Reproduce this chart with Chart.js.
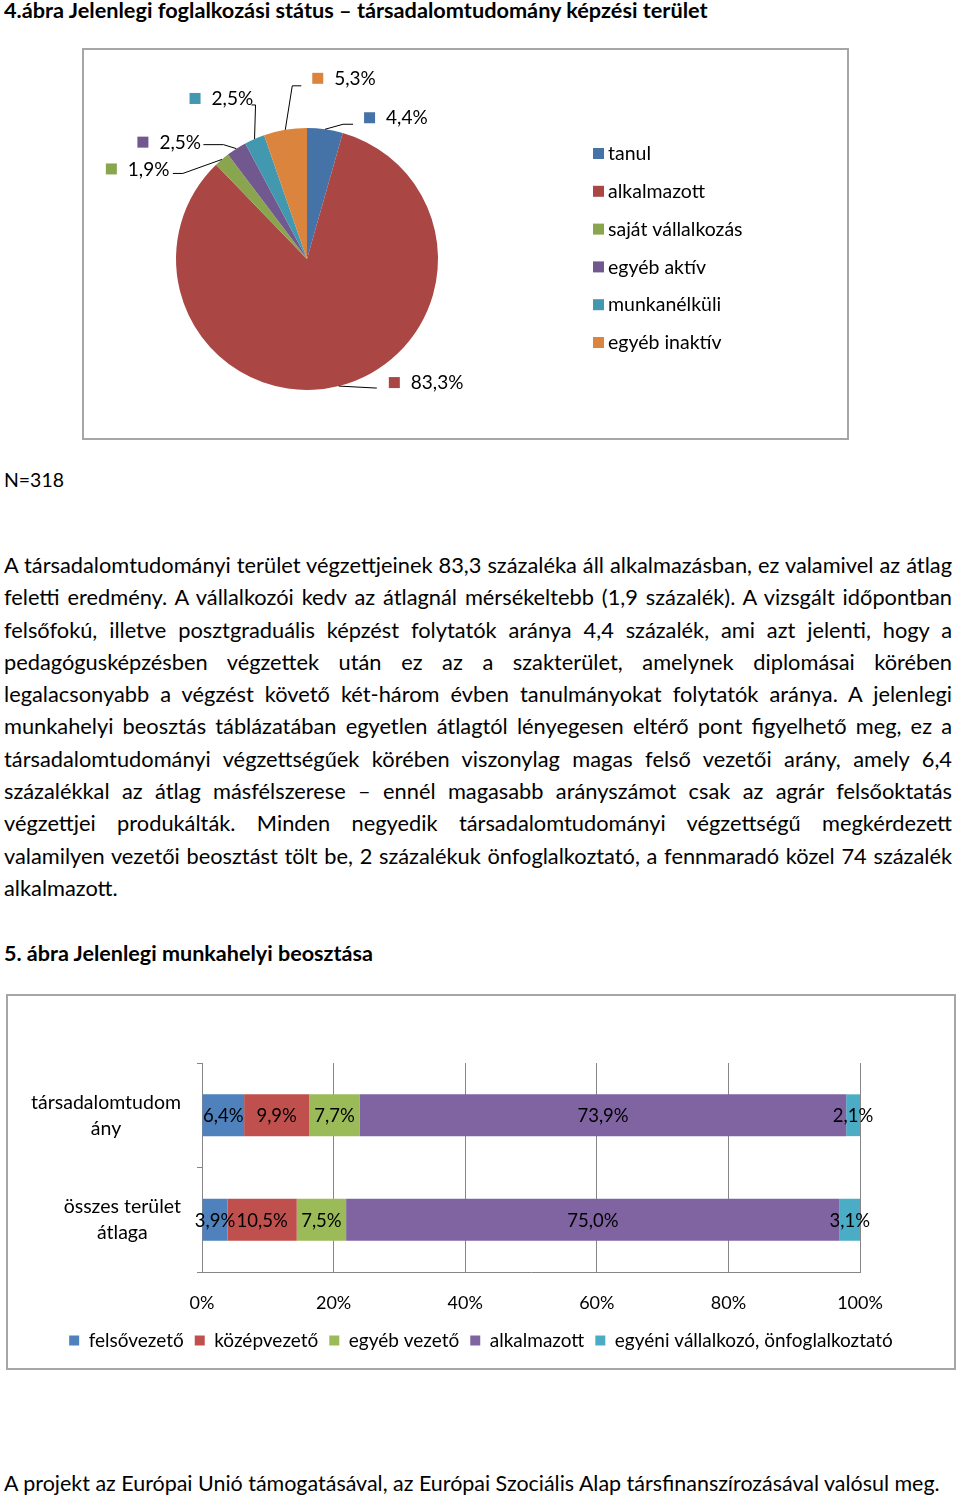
<!DOCTYPE html>
<html lang="hu">
<head>
<meta charset="UTF-8">
<title>Jelenlegi foglalkozási státus</title>
<script src="https://cdn.jsdelivr.net/npm/chart.js@4.4.0/dist/chart.umd.min.js"></script>
<style>
  body { margin: 0; width: 960px; height: 1498px; position: relative; background: #fff; color: #000; font-family: Lato, "Open Sans", sans-serif; overflow: hidden; }
  .t { position: absolute; left: 4px; white-space: nowrap; line-height: 1; }
  .b { font-weight: bold; }
  .box { position: absolute; box-sizing: border-box; border: 2px solid #a6a6a6; background: #fff; }
  .box canvas { display: block; }
  .para { position: absolute; left: 4px; width: 948px; font-size: 20px; }
  .para div { height: 32.3px; line-height: 32.3px; text-align: justify; text-align-last: justify; white-space: nowrap; }
  .para div.last { text-align-last: left; }
</style>
</head>
<body>
<div class="t b" id="title1" data-w="704" style="top:0px">4.ábra Jelenlegi foglalkozási státus – társadalomtudomány képzési terület</div>

<div class="box" style="left:82px; top:48px; width:767px; height:392px">
  <canvas id="pie" width="763" height="388"></canvas>
</div>

<div class="t" id="nval" data-w="60" style="top:470px">N=318</div>

<div class="para" id="para" style="top:549px">
  <div>A társadalomtudományi terület végzettjeinek 83,3 százaléka áll alkalmazásban, ez valamivel az átlag</div>
  <div>feletti eredmény. A vállalkozói kedv az átlagnál mérsékeltebb (1,9 százalék). A vizsgált időpontban</div>
  <div>felsőfokú, illetve posztgraduális képzést folytatók aránya 4,4 százalék, ami azt jelenti, hogy a</div>
  <div>pedagógusképzésben végzettek után ez az a szakterület, amelynek diplomásai körében</div>
  <div>legalacsonyabb a végzést követő két-három évben tanulmányokat folytatók aránya. A jelenlegi</div>
  <div>munkahelyi beosztás táblázatában egyetlen átlagtól lényegesen eltérő pont figyelhető meg, ez a</div>
  <div>társadalomtudományi végzettségűek körében viszonylag magas felső vezetői arány, amely 6,4</div>
  <div>százalékkal az átlag másfélszerese – ennél magasabb arányszámot csak az agrár felsőoktatás</div>
  <div>végzettjei produkálták. Minden negyedik társadalomtudományi végzettségű megkérdezett</div>
  <div>valamilyen vezetői beosztást tölt be, 2 százalékuk önfoglalkoztató, a fennmaradó közel 74 százalék</div>
  <div class="last">alkalmazott.</div>
</div>

<div class="t b" id="title2" data-w="369" style="top:943px">5. ábra Jelenlegi munkahelyi beosztása</div>

<div class="box" style="left:6px; top:994px; width:950px; height:376px">
  <canvas id="bar" width="946" height="372"></canvas>
</div>

<div class="t" id="foot" data-w="936" style="top:1473px">A projekt az Európai Unió támogatásával, az Európai Szociális Alap társfinanszírozásával valósul meg.</div>

<script>
// pie: jelenlegi foglalkozási státus (%)
const pieLabels = ['tanul', 'alkalmazott', 'saját vállalkozás', 'egyéb aktív', 'munkanélküli', 'egyéb inaktív']
const pieValues = [4.4, 83.3, 1.9, 2.5, 2.5, 5.3]
const pieColors = ['#4572A7', '#AA4643', '#89A54E', '#71588F', '#4198AF', '#DB843D']

// bar: jelenlegi munkahelyi beosztás (%)
const barCategories = [['társadalomtudom', 'ány'], ['összes terület', 'átlaga']]
const seriesNames = ['felsővezető', 'középvezető', 'egyéb vezető', 'alkalmazott', 'egyéni vállalkozó, önfoglalkoztató']
const felsovezeto = [6.4, 3.9]
const kozepvezeto = [9.9, 10.5]
const egyebVezeto = [7.7, 7.5]
const alkalmazott = [73.9, 75.0]
const egyeniVallalkozo = [2.1, 3.1]
const barColors = ['#4F81BD', '#C0504D', '#9BBB59', '#8064A2', '#4BACC6']
const xTickStep = 20

const fmt = v => v.toFixed(1).replace('.', ',') + '%'
const FONT = 'Lato, "Open Sans", sans-serif'

// fit single-line texts to the widths they have in the original
document.querySelectorAll('.t[data-w]').forEach(el => {
  el.style.fontSize = '20px'
  const w = el.getBoundingClientRect().width
  el.style.fontSize = (20 * (+el.dataset.w) / w) + 'px'
})

// paragraph: the longest line should fill the column with normal spacing
;(function () {
  const para = document.getElementById('para')
  const probe = document.createElement('span')
  probe.style.cssText = 'position:absolute;visibility:hidden;white-space:nowrap;font-size:20px'
  document.body.appendChild(probe)
  let maxW = 0
  para.querySelectorAll('div:not(.last)').forEach(d => {
    probe.textContent = d.textContent
    maxW = Math.max(maxW, probe.getBoundingClientRect().width)
  })
  probe.remove()
  para.style.fontSize = (20 * 944 / maxW) + 'px'
})()

window.onload = function () {
  // data labels with leader lines and legend keys, as in the Excel chart
  const pieLabelPlugin = {
    id: 'pieLabels',
    afterDatasetsDraw(chart, args, opts) {
      const ctx = chart.ctx
      const ds = chart.data.datasets[0]
      chart.getDatasetMeta(0).data.forEach((arc, i) => {
        const { x, y, startAngle, endAngle, outerRadius } = arc.getProps(['x', 'y', 'startAngle', 'endAngle', 'outerRadius'], true)
        const mid = (startAngle + endAngle) / 2
        const ax = x + Math.cos(mid) * outerRadius
        const ay = y + Math.sin(mid) * outerRadius
        const p = opts.placement[i]
        ctx.save()
        ctx.strokeStyle = '#000'
        ctx.lineWidth = 1
        ctx.beginPath()
        ctx.moveTo(ax, ay)
        ctx.lineTo(ax + p.elbow[0], ay + p.elbow[1])
        ctx.lineTo(ax + p.end[0], ay + p.end[1])
        ctx.stroke()
        const lx = ax + p.label[0], ly = ay + p.label[1]
        ctx.fillStyle = ds.backgroundColor[i]
        ctx.fillRect(lx, ly - 5, 11, 11)
        ctx.fillStyle = '#000'
        ctx.font = '19px ' + FONT
        ctx.textAlign = 'left'
        ctx.textBaseline = 'middle'
        ctx.fillText(fmt(ds.data[i]), lx + 22, ly + 1)
        ctx.restore()
      })
    }
  }

  const pieLegendPlugin = {
    id: 'pieLegend',
    afterDraw(chart, args, opts) {
      const ctx = chart.ctx
      const ds = chart.data.datasets[0]
      chart.data.labels.forEach((lab, i) => {
        const y = opts.top + i * opts.step
        ctx.save()
        ctx.fillStyle = ds.backgroundColor[i]
        ctx.fillRect(opts.left, y - 5, 11, 11)
        ctx.fillStyle = '#000'
        ctx.font = '19.5px ' + FONT
        ctx.textBaseline = 'middle'
        ctx.fillText(lab, opts.left + 15, y + 1)
        ctx.restore()
      })
    }
  }

  new Chart(document.getElementById('pie'), {
    type: 'pie',
    data: {
      labels: pieLabels,
      datasets: [{ data: pieValues, backgroundColor: pieColors, borderWidth: 0 }]
    },
    options: {
      responsive: false,
      animation: false,
      radius: 131,
      layout: { padding: { left: 92, right: 409, top: 78, bottom: 48 } },
      plugins: {
        legend: { display: false },
        tooltip: { enabled: false },
        pieLabels: {
          placement: [
            { elbow: [18, -5], end: [28, -5], label: [39, -12] },
            { elbow: [38, 2], end: [38, 2], label: [50, -4] },
            { elbow: [-39, 14], end: [-49, 14], label: [-116, 9] },
            { elbow: [-13, -4], end: [-33, -4], label: [-99, -7] },
            { elbow: [1, -34], end: [-3, -34], label: [-65, -41] },
            { elbow: [7, -44], end: [16, -44], label: [27, -52] }
          ]
        },
        pieLegend: { left: 509, top: 103, step: 37.8 }
      }
    },
    plugins: [pieLabelPlugin, pieLegendPlugin]
  })

  const barValuePlugin = {
    id: 'barValues',
    afterDatasetsDraw(chart) {
      const ctx = chart.ctx
      ctx.save()
      ctx.font = '18.5px ' + FONT
      ctx.fillStyle = '#000'
      ctx.textAlign = 'center'
      ctx.textBaseline = 'middle'
      chart.data.datasets.forEach((ds, di) => {
        chart.getDatasetMeta(di).data.forEach((bar, i) => {
          const { x, y, base } = bar.getProps(['x', 'y', 'base'], true)
          ctx.fillText(fmt(ds.data[i]), (x + base) / 2, y + 1)
        })
      })
      ctx.restore()
    }
  }

  // category names: block right-aligned to the axis, lines centered in it
  const catLabelPlugin = {
    id: 'catLabels',
    afterDraw(chart, args, opts) {
      const ctx = chart.ctx
      const ys = chart.scales.y
      ctx.save()
      ctx.font = '19.5px ' + FONT
      ctx.fillStyle = '#000'
      ctx.textAlign = 'center'
      ctx.textBaseline = 'middle'
      chart.data.labels.forEach((lines, i) => {
        const cy = ys.getPixelForValue(i)
        const w = Math.max(...lines.map(l => ctx.measureText(l).width))
        const cx = opts.right - w / 2
        lines.forEach((l, k) => {
          ctx.fillText(l, cx, cy + (k - (lines.length - 1) / 2) * opts.lineHeight)
        })
      })
      ctx.restore()
    }
  }

  const barSeries = [felsovezeto, kozepvezeto, egyebVezeto, alkalmazott, egyeniVallalkozo]

  new Chart(document.getElementById('bar'), {
    type: 'bar',
    data: {
      labels: barCategories,
      datasets: barSeries.map((d, i) => ({
        label: seriesNames[i],
        data: d,
        backgroundColor: barColors[i],
        borderWidth: 0,
        barPercentage: 0.4,
        categoryPercentage: 1
      }))
    },
    options: {
      responsive: false,
      animation: false,
      indexAxis: 'y',
      layout: { padding: { left: 0, right: 0, top: 67, bottom: 8 } },
      scales: {
        x: {
          stacked: true,
          min: 0,
          max: 100,
          ticks: { stepSize: xTickStep, callback: v => v + '%', padding: 20, color: '#000', font: { family: FONT, size: 18 } },
          grid: { color: '#868686', drawTicks: false },
          border: { color: '#868686' },
          afterFit(s) { s.height = 48 }
        },
        y: {
          stacked: true,
          ticks: { display: false },
          grid: { drawOnChartArea: false, offset: true, tickLength: 5, color: '#868686' },
          border: { color: '#868686' },
          afterFit(s) { s.width = 194 }
        },
        // empty right-hand axis, only keeps the plot off the right edge
        yRight: {
          type: 'category',
          position: 'right',
          ticks: { display: false },
          grid: { display: false },
          border: { display: false },
          afterFit(s) { s.width = 94 }
        }
      },
      plugins: {
        legend: {
          position: 'bottom',
          labels: { boxWidth: 10, boxHeight: 10, padding: 11, color: '#000', font: { family: FONT, size: 19 } }
        },
        tooltip: { enabled: false },
        catLabels: { right: 173, lineHeight: 26 }
      }
    },
    plugins: [barValuePlugin, catLabelPlugin]
  })
}
</script>
</body>
</html>
